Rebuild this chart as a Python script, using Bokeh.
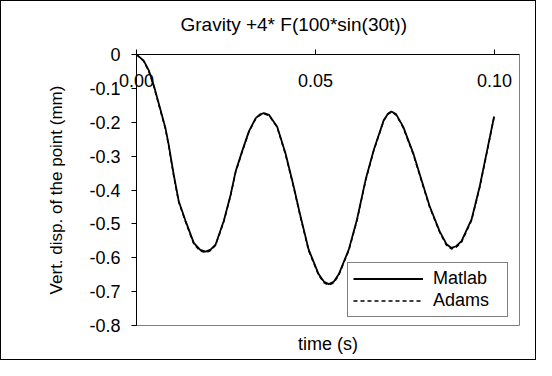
from bokeh.plotting import figure
from bokeh.models import Range1d, FixedTicker, LinearAxis
from bokeh.embed import file_html
from bokeh.resources import INLINE

# ---- data ----
t_matlab = [0.0, 0.0020, 0.0034, 0.0048, 0.0062, 0.0081, 0.0090, 0.0104, 0.0118, 0.0137,
            0.0160, 0.0178, 0.0193, 0.0207, 0.0221, 0.0244, 0.0263, 0.0277, 0.0295, 0.0314,
            0.0333, 0.0345, 0.0356, 0.0370, 0.0393, 0.0416, 0.0439, 0.0458, 0.0481, 0.0509,
            0.0524, 0.0537, 0.0551, 0.0565, 0.0593, 0.0616, 0.0640, 0.0663, 0.0691, 0.0703,
            0.0712, 0.0725, 0.0745, 0.0773, 0.0796, 0.0819, 0.0847, 0.0866, 0.0880, 0.0893,
            0.0908, 0.0936, 0.0959, 0.0978, 0.0999]
v_matlab = [0.0, -0.018, -0.046, -0.090, -0.144, -0.218, -0.267, -0.355, -0.433, -0.491,
            -0.556, -0.577, -0.582, -0.576, -0.561, -0.491, -0.414, -0.345, -0.286, -0.227,
            -0.188, -0.177, -0.173, -0.178, -0.213, -0.291, -0.389, -0.477, -0.576, -0.649,
            -0.671, -0.678, -0.671, -0.649, -0.576, -0.487, -0.370, -0.281, -0.193, -0.174,
            -0.168, -0.176, -0.213, -0.291, -0.370, -0.448, -0.522, -0.560, -0.571, -0.566,
            -0.551, -0.487, -0.389, -0.291, -0.183]
t_adams = t_matlab
v_adams = [0.0, -0.020, -0.049, -0.093, -0.147, -0.221, -0.270, -0.358, -0.436, -0.494,
           -0.559, -0.580, -0.585, -0.579, -0.563, -0.493, -0.416, -0.347, -0.288, -0.229,
           -0.190, -0.179, -0.175, -0.180, -0.215, -0.294, -0.392, -0.480, -0.579, -0.652,
           -0.674, -0.681, -0.674, -0.652, -0.579, -0.490, -0.373, -0.283, -0.195, -0.176,
           -0.170, -0.178, -0.216, -0.294, -0.373, -0.451, -0.525, -0.563, -0.574, -0.569,
           -0.554, -0.490, -0.392, -0.294, -0.185]

x_ticks = [0.0, 0.05, 0.10]
x_tick_labels = ["0.00", "0.05", "0.10"]
y_ticks = [0.0, -0.1, -0.2, -0.3, -0.4, -0.5, -0.6, -0.7, -0.8]
y_tick_labels = ["0", "-0.1", "-0.2", "-0.3", "-0.4", "-0.5", "-0.6", "-0.7", "-0.8"]
series_names = ["Matlab", "Adams"]
title_text = "Gravity +4* F(100*sin(30t))"
x_title = "time (s)"
y_title = "Vert. disp. of the point (mm)"

FONT = "Liberation Sans"
FS = "18px"

p = figure(width=536, height=360, output_backend="svg", toolbar_location=None,
           x_range=Range1d(0, 0.107), y_range=Range1d(-0.8, 0),
           x_axis_location="above", y_axis_location="left",
           min_border_left=135, min_border_right=18, min_border_top=53, min_border_bottom=36)
p.styles = {"border": "1px solid black"}
p.background_fill_color = "white"
p.border_fill_color = "white"
p.outline_line_color = "#808080"
p.outline_line_width = 1
p.xgrid.visible = False
p.ygrid.visible = False

# title
p.title.text = title_text
p.title.align = "left"
p.title.offset = 44
p.title.standoff = 0
p.title.text_font = FONT
p.title.text_font_size = "19px"
p.title.text_font_style = "normal"
p.title.text_color = "black"

# top x axis (labels below the line, inside); blank axis label only reserves space
xa = p.xaxis[0]
xa.ticker = FixedTicker(ticks=x_ticks)
xa.major_label_overrides = dict(zip(x_ticks, x_tick_labels))
xa.major_tick_out = 5
xa.major_tick_in = 0
xa.minor_tick_line_color = None
xa.major_label_standoff = -37
xa.major_label_text_font = FONT
xa.major_label_text_font_size = FS
xa.major_label_text_color = "black"
xa.axis_line_color = "black"
xa.major_tick_line_color = "black"
xa.axis_label = " "
xa.axis_label_text_font = FONT
xa.axis_label_text_font_size = FS
xa.axis_label_standoff = 13

# y axis
ya = p.yaxis[0]
ya.ticker = FixedTicker(ticks=y_ticks)
ya.major_label_overrides = dict(zip(y_ticks, y_tick_labels))
ya.major_tick_out = 5
ya.major_tick_in = 0
ya.minor_tick_line_color = None
ya.major_label_standoff = 11
ya.major_label_text_font = FONT
ya.major_label_text_font_size = FS
ya.major_label_text_color = "black"
ya.axis_label = y_title
ya.axis_label_text_font = FONT
ya.axis_label_text_font_size = "17px"
ya.axis_label_text_font_style = "normal"
ya.axis_label_text_color = "black"
ya.axis_label_standoff = 20

# bottom axis used only for the title
xb = LinearAxis(ticker=FixedTicker(ticks=[]), axis_line_color=None,
                major_tick_line_color=None, minor_tick_line_color=None,
                major_tick_out=0, major_label_standoff=0,
                axis_label=x_title, axis_label_text_font=FONT,
                axis_label_text_font_size=FS, axis_label_text_font_style="normal",
                axis_label_text_color="black", axis_label_standoff=8)
p.add_layout(xb, "below")

p.line(t_matlab, v_matlab, line_color="black", line_width=1.8, legend_label=series_names[0])
p.line(t_adams, v_adams, line_color="black", line_width=1.5, line_dash="4 3",
       legend_label=series_names[1])

lg = p.legend[0]
lg.location = (211, 8)
lg.border_line_color = "black"
lg.border_line_width = 1
lg.background_fill_color = "white"
lg.background_fill_alpha = 1
lg.label_text_font = FONT
lg.label_text_font_size = FS
lg.label_text_color = "black"
lg.padding = 5
lg.spacing = 1
lg.margin = 0
lg.glyph_width = 70
lg.glyph_height = 19
lg.label_height = 19
lg.label_width = 69
lg.label_standoff = 10

open("out.html", "w").write(file_html(p, INLINE))
